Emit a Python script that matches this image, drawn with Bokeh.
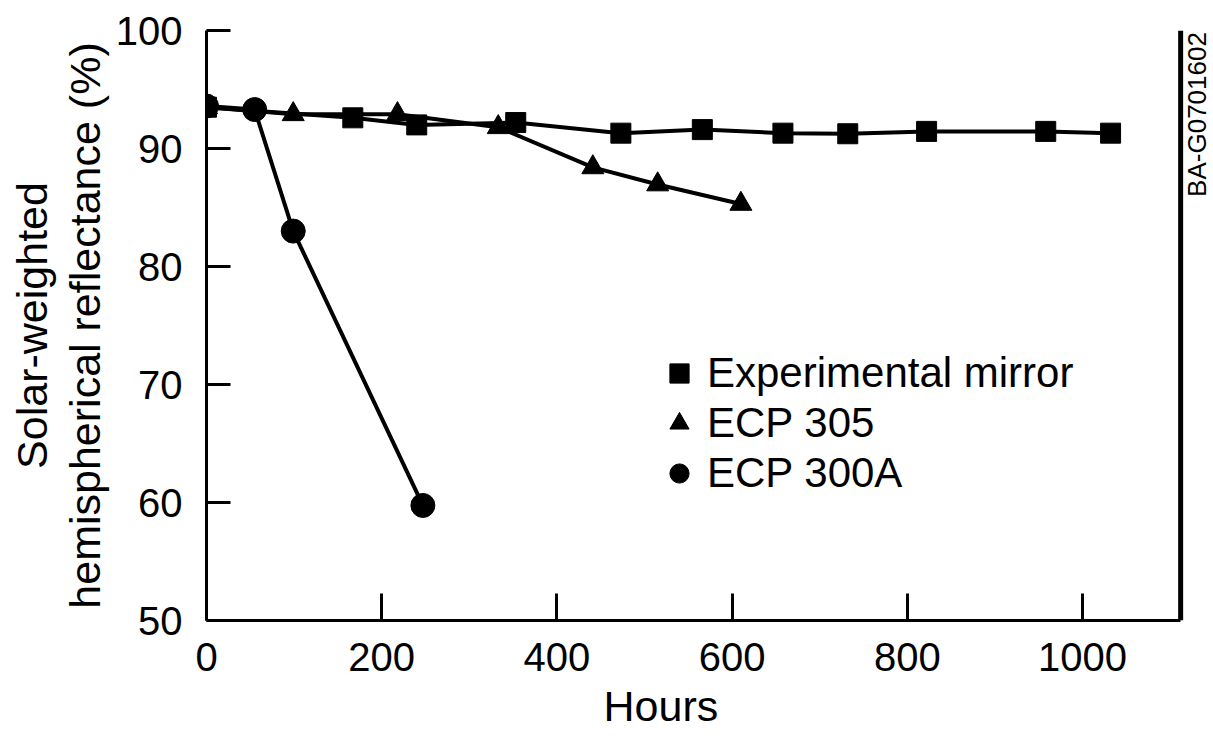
from bokeh.plotting import figure
from bokeh.models import Range1d, FixedTicker, Label, Legend, LegendItem, Title
from bokeh.embed import file_html
from bokeh.resources import INLINE

# ---- data ----
mirror_hours = [0, 167, 240, 353, 473, 566, 658, 732, 822, 958, 1032]
mirror_refl = [93.5, 92.6, 92.0, 92.2, 91.3, 91.6, 91.3, 91.25, 91.45, 91.45, 91.3]

ecp305_hours = [0, 99, 218, 333, 441, 515, 610]
ecp305_refl = [93.5, 92.9, 92.9, 91.8, 88.4, 86.95, 85.3]

ecp300a_hours = [0, 55, 99, 247]
ecp300a_refl = [93.6, 93.3, 83.0, 59.75]

x_ticks = [0, 200, 400, 600, 800, 1000]
y_ticks = [50, 60, 70, 80, 90, 100]
x_axis_end = 1112      # right-hand frame line (hours)
y_min, y_max = 50, 100

FONT = "Liberation Sans"

p = figure(width=1213, height=736, output_backend="svg", toolbar_location=None,
           x_range=Range1d(0, 1149.5), y_range=Range1d(y_min, y_max),
           min_border_left=206, min_border_right=0, min_border_top=30, min_border_bottom=116)
p.outline_line_color = None
p.xgrid.visible = False
p.ygrid.visible = False
p.background_fill_color = "white"
p.border_fill_color = "white"

for ax in (p.xaxis[0], p.yaxis[0]):
    ax.axis_line_width = 3
    ax.axis_line_color = "black"
    ax.major_tick_line_width = 3
    ax.major_tick_line_color = "black"
    ax.minor_tick_line_color = None
    ax.major_tick_out = 0
    ax.major_label_text_font = FONT
    ax.major_label_text_font_size = "40px"
    ax.major_label_text_color = "black"
    ax.axis_label_text_font = FONT
    ax.axis_label_text_font_size = "43px"
    ax.axis_label_text_font_style = "normal"
    ax.axis_label_text_color = "black"

p.xaxis[0].ticker = FixedTicker(ticks=x_ticks)
p.xaxis[0].bounds = (0, x_axis_end)
p.yaxis[0].ticker = FixedTicker(ticks=y_ticks)
p.xaxis[0].major_tick_in = 27
p.yaxis[0].major_tick_in = 24
p.xaxis[0].major_label_standoff = 22
p.yaxis[0].major_label_standoff = 24
p.yaxis[0].axis_label = "Solar-weighted\nhemispherical reflectance (%)"
p.yaxis[0].axis_label_standoff = 4
p.yaxis[0].axis_label_text_line_height = 1.1

# x-axis title, placed like the reference (left of the frame centre)
p.add_layout(Title(text="Hours", align="left", offset=397, standoff=13,
                   text_font=FONT, text_font_size="43px", text_font_style="normal",
                   text_color="black"), "below")

# right-hand frame line
p.segment(x0=[x_axis_end], y0=[y_min], x1=[x_axis_end], y1=[y_max],
          line_color="black", line_width=5)

# lines
p.line(mirror_hours, mirror_refl, line_width=4, color="black")
p.line(ecp305_hours, ecp305_refl, line_width=4, color="black")
p.line(ecp300a_hours, ecp300a_refl, line_width=4, color="black")

# markers
r_sq = p.scatter(mirror_hours, mirror_refl, marker="square", size=20, color="black")
r_tr = p.scatter(ecp305_hours, ecp305_refl, marker="triangle", size=22, color="black")
r_ci = p.scatter(ecp300a_hours, ecp300a_refl, marker="circle", size=24, color="black")

legend = Legend(items=[LegendItem(label="Experimental mirror", renderers=[r_sq]),
                       LegendItem(label="ECP 305", renderers=[r_tr]),
                       LegendItem(label="ECP 300A", renderers=[r_ci])],
                location=(449, 122), glyph_width=48, glyph_height=50, label_standoff=4,
                spacing=0, padding=0, margin=0, border_line_color=None,
                background_fill_alpha=0, label_text_font=FONT, label_text_font_size="42px",
                label_text_color="black", label_height=50)
p.add_layout(legend, "center")

p.add_layout(Label(x=1131, y=85.9, text="BA-G0701602",
                   angle=90, angle_units="deg", text_font=FONT, text_font_size="26px",
                   text_align="left", text_baseline="middle", text_color="black"))

open("out.html", "w").write(file_html(p, INLINE))
